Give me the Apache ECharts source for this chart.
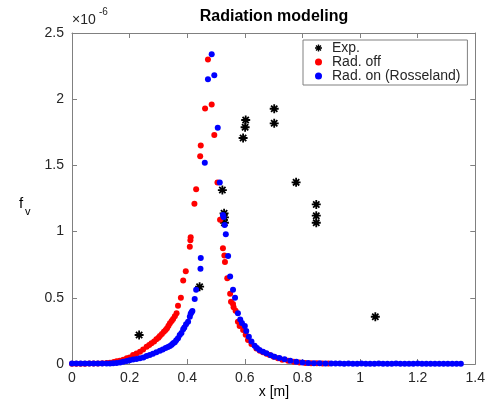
<!DOCTYPE html>
<html><head><meta charset="utf-8">
<script src="https://cdn.jsdelivr.net/npm/echarts@6/dist/echarts.min.js"></script>
<style>html,body{margin:0;padding:0;background:#fff}#c{width:488px;height:404px}</style>
</head><body><div id="c"></div>
<script>
// x in metres, f_v in units of 1e-6
const xTicks = [0, 0.2, 0.4, 0.6, 0.8, 1, 1.2, 1.4];
const yTicks = [0, 0.5, 1, 1.5, 2, 2.5];
const yExponent = -6;

const expData = [
  [0.233, 0.219], [0.443, 0.584], [0.522, 1.314], [0.528, 1.138], [0.529, 1.108], [0.529, 1.067],
  [0.594, 1.707], [0.601, 1.788], [0.603, 1.843], [0.702, 1.928], [0.702, 1.818],
  [0.778, 1.372], [0.848, 1.205], [0.848, 1.12], [0.848, 1.067], [1.053, 0.357]
];

const radOff = [
  [0, 0.002], [0.015, 0.002], [0.03, 0.002], [0.045, 0.002], [0.06, 0.003], [0.075, 0.003],
  [0.09, 0.004], [0.105, 0.006], [0.12, 0.008], [0.132, 0.01], [0.145, 0.015], [0.155, 0.02],
  [0.166, 0.025], [0.178, 0.033], [0.19, 0.043], [0.2, 0.05], [0.212, 0.068], [0.224, 0.08],
  [0.236, 0.093], [0.247, 0.11], [0.259, 0.131], [0.268, 0.143], [0.276, 0.156], [0.285, 0.17],
  [0.293, 0.186], [0.3, 0.198], [0.305, 0.211], [0.312, 0.226], [0.319, 0.244], [0.325, 0.257],
  [0.33, 0.27], [0.335, 0.288], [0.34, 0.307], [0.346, 0.325], [0.351, 0.34], [0.357, 0.36],
  [0.363, 0.383], [0.368, 0.44], [0.378, 0.50], [0.386, 0.63], [0.395, 0.70], [0.409, 0.886],
  [0.411, 0.935], [0.412, 0.957], [0.425, 1.21], [0.431, 1.32], [0.445, 1.57], [0.447, 1.65],
  [0.462, 1.93], [0.472, 2.30], [0.485, 1.96], [0.494, 1.73], [0.505, 1.37], [0.514, 1.09],
  [0.524, 0.874], [0.529, 0.82], [0.531, 0.77], [0.539, 0.647], [0.549, 0.53], [0.552, 0.47],
  [0.559, 0.453], [0.561, 0.428], [0.568, 0.403], [0.576, 0.32], [0.582, 0.287], [0.594, 0.257],
  [0.603, 0.221], [0.611, 0.181], [0.623, 0.151], [0.64, 0.118], [0.652, 0.1], [0.663, 0.088],
  [0.675, 0.077], [0.686, 0.068], [0.7, 0.055], [0.715, 0.043], [0.73, 0.033], [0.75, 0.025],
  [0.77, 0.017], [0.79, 0.012], [0.81, 0.008], [0.83, 0.006], [0.85, 0.005], [0.87, 0.004],
  [0.89, 0.003]
];

const radOn = [
  [0, 0.003], [0.015, 0.003], [0.03, 0.003], [0.045, 0.003], [0.06, 0.003], [0.075, 0.003],
  [0.09, 0.003], [0.105, 0.004], [0.12, 0.004], [0.132, 0.004], [0.143, 0.005], [0.155, 0.008],
  [0.167, 0.012], [0.178, 0.017], [0.19, 0.023], [0.2, 0.028], [0.212, 0.034], [0.224, 0.038],
  [0.236, 0.043], [0.248, 0.05], [0.259, 0.06], [0.27, 0.068], [0.281, 0.077], [0.293, 0.088],
  [0.305, 0.1], [0.315, 0.11], [0.325, 0.12], [0.333, 0.128], [0.34, 0.136], [0.346, 0.145],
  [0.351, 0.156], [0.357, 0.165], [0.362, 0.18], [0.368, 0.194], [0.374, 0.219], [0.38, 0.235],
  [0.386, 0.262], [0.39, 0.275], [0.396, 0.30], [0.403, 0.32], [0.409, 0.357], [0.412, 0.38],
  [0.415, 0.39], [0.418, 0.40], [0.426, 0.49], [0.431, 0.56], [0.446, 0.72], [0.447, 0.80],
  [0.461, 1.52], [0.472, 2.15], [0.485, 2.34], [0.494, 2.18], [0.506, 1.785], [0.513, 1.37],
  [0.524, 1.125], [0.526, 1.11], [0.53, 1.05], [0.534, 0.98], [0.542, 0.816], [0.549, 0.66],
  [0.559, 0.56], [0.566, 0.50], [0.576, 0.383], [0.584, 0.337], [0.59, 0.31], [0.6, 0.287],
  [0.605, 0.25], [0.614, 0.206], [0.623, 0.169], [0.634, 0.138], [0.642, 0.12], [0.651, 0.106],
  [0.663, 0.092], [0.675, 0.081], [0.69, 0.066], [0.703, 0.055], [0.72, 0.045], [0.738, 0.035],
  [0.758, 0.025], [0.779, 0.017], [0.8, 0.012], [0.82, 0.008], [0.84, 0.006], [0.86, 0.005],
  [0.88, 0.004], [0.9, 0.003], [0.915, 0.003], [0.93, 0.003], [0.945, 0.002], [0.96, 0.003],
  [0.975, 0.002], [0.99, 0.002], [1.005, 0.003], [1.02, 0.002], [1.035, 0.002], [1.05, 0.002],
  [1.065, 0.003], [1.08, 0.002], [1.095, 0.002], [1.11, 0.002], [1.125, 0.003], [1.14, 0.002],
  [1.155, 0.002], [1.17, 0.002], [1.185, 0.002], [1.2, 0.003], [1.215, 0.002], [1.23, 0.002],
  [1.245, 0.002], [1.26, 0.002], [1.275, 0.002], [1.29, 0.002], [1.305, 0.002], [1.32, 0.002],
  [1.335, 0.002], [1.35, 0.002]
];

const seriesNames = ['Exp.', 'Rad. off', 'Rad. on (Rosseland)'];

const FONT = '"Liberation Sans", Arial, Helvetica, sans-serif';
const AX = '#808080';
const TXT = '#262626';
const starPath = 'path://M-1,-5L1,-5L1,5L-1,5Z M-5,-1L5,-1L5,1L-5,1Z M-4.2,-2.8L-2.8,-4.2L4.2,2.8L2.8,4.2Z M2.8,-4.2L4.2,-2.8L-2.8,4.2L-4.2,2.8Z';

const chart = echarts.init(document.getElementById('c'), null, {renderer: 'canvas'});
const xmin = xTicks[0], xmax = xTicks[xTicks.length - 1], xint = xTicks[1] - xTicks[0];
const ymin = yTicks[0], ymax = yTicks[yTicks.length - 1], yint = yTicks[1] - yTicks[0];

const baseAxis = {
  axisLine: {show: true, onZero: false, lineStyle: {color: AX, width: 1}},
  axisTick: {show: true, inside: true, length: 5, lineStyle: {color: AX}},
  splitLine: {show: false}
};

chart.setOption({
  animation: false,
  backgroundColor: '#fff',
  grid: {left: 72, right: 12, top: 33, bottom: 40, containLabel: false},
  xAxis: [
    Object.assign({}, baseAxis, {type: 'value', min: xmin, max: xmax, interval: xint, position: 'bottom',
      axisLabel: {color: TXT, fontSize: 14, fontFamily: FONT, margin: 7,
        formatter: v => String(Math.round(v * 10) / 10)}}),
    Object.assign({}, baseAxis, {type: 'value', min: xmin, max: xmax, interval: xint, position: 'top',
      axisLabel: {show: false}})
  ],
  yAxis: [
    Object.assign({}, baseAxis, {type: 'value', min: ymin, max: ymax, interval: yint, position: 'left',
      axisLabel: {color: TXT, fontSize: 14, fontFamily: FONT, margin: 8,
        formatter: v => String(Math.round(v * 10) / 10)}}),
    Object.assign({}, baseAxis, {type: 'value', min: ymin, max: ymax, interval: yint, position: 'right',
      axisLabel: {show: false}})
  ],
  legend: {
    orient: 'vertical', left: 303, top: 40,
    padding: [1, 7, 2, 12], itemGap: 0, itemWidth: 17, itemHeight: 7,
    borderColor: AX, borderWidth: 1, backgroundColor: '#fff',
    textStyle: {color: TXT, fontSize: 14, fontFamily: FONT, lineHeight: 14},
    data: [
      {name: seriesNames[0], icon: starPath},
      {name: seriesNames[1], icon: 'circle'},
      {name: seriesNames[2], icon: 'circle'}
    ]
  },
  series: [
    {name: seriesNames[0], type: 'scatter', data: expData, symbol: starPath, symbolSize: 9,
      itemStyle: {color: '#000', opacity: 1}, z: 3},
    {name: seriesNames[1], type: 'scatter', data: radOff, symbol: 'circle', symbolSize: 6,
      itemStyle: {color: '#ff0000', opacity: 1}, z: 4},
    {name: seriesNames[2], type: 'scatter', data: radOn, symbol: 'circle', symbolSize: 6,
      itemStyle: {color: '#0000ff', opacity: 1}, z: 5}
  ],
  graphic: [
    {type: 'text', x: 274, y: 9, style: {text: 'Radiation modeling', fill: '#000', textAlign: 'center',
      font: 'bold 16px ' + FONT}},
    {type: 'text', x: 72, y: 13, style: {text: '×10', fill: TXT, font: '14px ' + FONT}},
    {type: 'text', x: 99, y: 7, style: {text: String(yExponent), fill: TXT, font: '10px ' + FONT}},
    {type: 'text', x: 19, y: 196, style: {text: 'f', fill: '#000', font: '15px ' + FONT}},
    {type: 'text', x: 25, y: 206, style: {text: 'v', fill: '#000', font: '11px ' + FONT}},
    {type: 'text', x: 274, y: 385, style: {text: 'x [m]', fill: '#000', font: '14px ' + FONT, textAlign: 'center'}}
  ]
});
</script>
</body></html>
